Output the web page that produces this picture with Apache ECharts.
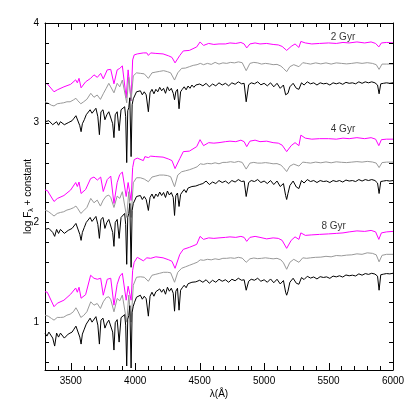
<!DOCTYPE html>
<html>
<head>
<meta charset="utf-8">
<script src="https://cdn.jsdelivr.net/npm/echarts@6/dist/echarts.min.js"></script>
<style>
  html, body { margin: 0; padding: 0; background: #fff; }
  #chart { width: 415px; height: 415px; }
</style>
</head>
<body>
<div id="chart"></div>
<script>
// wavelength grids (Angstrom) for the three resolutions
var wlLow = [
    3300, 3318, 3370, 3396, 3447, 3499, 3538, 3551, 3564, 3580,
    3615, 3654, 3680, 3706, 3732, 3752, 3783, 3810, 3835, 3860,
    3880, 3900, 3913, 3930, 3945, 3955, 3968, 3980, 3992, 4016,
    4063, 4075, 4090, 4102, 4120, 4160, 4216, 4260, 4285, 4309,
    4346, 4373, 4420, 4477, 4503, 4530, 4570, 4610, 4650, 4700,
    4735, 4780, 4820, 4845, 4865, 4890, 4930, 4968, 5020, 5070,
    5110, 5140, 5175, 5210, 5240, 5270, 5285, 5320, 5370, 5430,
    5500, 5560, 5612, 5660, 5720, 5780, 5830, 5865, 5890, 5910,
    5950, 6000
];
var wlMid = [
    3300, 3325, 3350, 3370, 3395, 3420, 3445, 3470, 3495, 3520,
    3540, 3555, 3578, 3600, 3625, 3655, 3680, 3705, 3730, 3752,
    3775, 3795, 3810, 3835, 3860, 3880, 3900, 3915, 3934, 3950,
    3968, 3985, 4010, 4040, 4070, 4102, 4130, 4160, 4190, 4220,
    4250, 4275, 4305, 4330, 4360, 4390, 4420, 4450, 4480, 4505,
    4530, 4560, 4590, 4620, 4650, 4680, 4710, 4740, 4770, 4800,
    4830, 4861, 4890, 4920, 4950, 4980, 5010, 5040, 5070, 5100,
    5130, 5150, 5175, 5200, 5230, 5270, 5300, 5330, 5360, 5400,
    5440, 5480, 5520, 5560, 5600, 5640, 5680, 5720, 5760, 5800,
    5840, 5870, 5892, 5915, 5950, 6000
];
var wlHigh = [
    3300, 3315, 3330, 3345, 3360, 3375, 3390, 3405, 3420, 3435,
    3450, 3465, 3480, 3495, 3510, 3525, 3540, 3555, 3570, 3580,
    3590, 3605, 3620, 3635, 3650, 3665, 3680, 3695, 3710, 3722,
    3734, 3750, 3765, 3780, 3795, 3810, 3825, 3835, 3845, 3860,
    3875, 3890, 3905, 3918, 3926, 3934, 3942, 3950, 3958, 3968,
    3976, 3985,
    3995, 4010, 4025, 4040, 4055, 4070, 4085, 4102, 4115, 4130,
    4145, 4160, 4175, 4190, 4205, 4220, 4235, 4250, 4265, 4280,
    4295, 4305, 4315, 4328, 4340, 4352, 4365, 4380, 4395, 4410,
    4425, 4440, 4455, 4470, 4485, 4500,
    4525, 4550, 4575, 4600, 4625, 4650, 4675, 4700, 4725, 4750,
    4775, 4800, 4825, 4845, 4861, 4880, 4900, 4925, 4950, 4975,
    5000, 5025, 5050, 5075, 5100, 5125, 5150, 5167, 5175, 5185,
    5200, 5225, 5250, 5270, 5290, 5310, 5335, 5360, 5385, 5410,
    5435, 5460, 5485, 5510, 5535, 5560, 5585, 5610, 5635, 5660,
    5685, 5710, 5735, 5760, 5785, 5810, 5835, 5860, 5880, 5892,
    5905, 5925, 5950, 5975, 6000
];

// 2 Gyr
var low2 = [
    3.395, 3.39, 3.31, 3.33, 3.36, 3.385, 3.43, 3.40, 3.445, 3.35,
    3.41, 3.445, 3.48, 3.455, 3.495, 3.44, 3.53, 3.535, 3.39, 3.53,
    3.545, 3.57, 3.58, 3.25, 3.53, 3.51, 3.22, 3.63, 3.68, 3.69,
    3.70, 3.68, 3.70, 3.675, 3.70, 3.695, 3.69, 3.67, 3.655, 3.60,
    3.675, 3.72, 3.725, 3.76, 3.81, 3.775, 3.795, 3.785, 3.79, 3.79,
    3.80, 3.795, 3.805, 3.79, 3.75, 3.79, 3.80, 3.79, 3.795, 3.785,
    3.78, 3.765, 3.725, 3.765, 3.79, 3.755, 3.815, 3.80, 3.79, 3.795,
    3.80, 3.795, 3.805, 3.80, 3.81, 3.80, 3.81, 3.795, 3.76, 3.80,
    3.805, 3.80
];
var mid2 = [
    3.21, 3.195, 3.175, 3.168, 3.19, 3.195, 3.20, 3.21, 3.21, 3.228,
    3.245, 3.22, 3.19, 3.21, 3.235, 3.295, 3.255, 3.278, 3.234, 3.29,
    3.345, 3.395, 3.36, 3.30, 3.395, 3.36, 3.428, 3.445, 3.20, 3.455,
    3.22, 3.47, 3.50, 3.495, 3.49, 3.445, 3.50, 3.508, 3.515, 3.522,
    3.512, 3.50, 3.428, 3.50, 3.545, 3.548, 3.562, 3.575, 3.582, 3.595,
    3.582, 3.595, 3.585, 3.605, 3.588, 3.60, 3.595, 3.605, 3.60, 3.61,
    3.602, 3.522, 3.595, 3.605, 3.60, 3.588, 3.595, 3.59, 3.582, 3.585,
    3.568, 3.545, 3.512, 3.562, 3.582, 3.562, 3.602, 3.595, 3.588, 3.60,
    3.59, 3.60, 3.588, 3.60, 3.595, 3.59, 3.595, 3.602, 3.595, 3.602,
    3.595, 3.582, 3.535, 3.588, 3.588, 3.588
];
var high2 = [
    3.01, 2.99, 3.02, 3.03, 2.98, 2.96, 3.01, 2.975, 3.01, 3.03,
    2.98, 2.96, 3.00, 2.99, 3.02, 3.045, 3.07, 3.08, 2.97, 2.91,
    2.99, 3.03, 3.08, 3.09, 3.13, 3.095, 3.08, 3.145, 3.06, 2.88,
    3.11, 3.13, 3.03, 3.08, 3.11, 3.13, 2.99, 2.85, 3.08, 3.11,
    2.92, 3.13, 3.145, 3.16, 3.06, 2.60, 3.12, 3.15, 3.25, 2.66,
    3.18, 3.24,
    3.26, 3.31, 3.29, 3.32, 3.28, 3.31, 3.28, 3.11, 3.30, 3.335,
    3.29, 3.335, 3.31, 3.355, 3.32, 3.345, 3.295, 3.36, 3.32, 3.345,
    3.295, 3.23, 3.31, 3.335, 3.14, 3.31, 3.335, 3.36, 3.33, 3.368,
    3.345, 3.378, 3.355, 3.378, 3.36, 3.388,
    3.37, 3.395, 3.36, 3.388, 3.37, 3.40, 3.378, 3.395, 3.37, 3.40,
    3.385, 3.41, 3.39, 3.395, 3.21, 3.38, 3.40, 3.39, 3.41, 3.38,
    3.395, 3.37, 3.40, 3.36, 3.395, 3.345, 3.378, 3.28, 3.26, 3.295,
    3.36, 3.395, 3.345, 3.335, 3.40, 3.378, 3.41, 3.39, 3.40, 3.378,
    3.40, 3.39, 3.395, 3.378, 3.40, 3.39, 3.40, 3.385, 3.405, 3.395,
    3.40, 3.39, 3.41, 3.395, 3.41, 3.40, 3.41, 3.40, 3.378, 3.29,
    3.39, 3.395, 3.40, 3.395, 3.40
];

// 4 Gyr
var low4 = [
    2.325, 2.32, 2.21, 2.24, 2.27, 2.325, 2.40, 2.36, 2.405, 2.29,
    2.33, 2.44, 2.455, 2.425, 2.455, 2.31, 2.43, 2.465, 2.19, 2.40,
    2.48, 2.505, 2.49, 2.26, 2.40, 2.39, 2.22, 2.55, 2.63, 2.645,
    2.62, 2.66, 2.675, 2.65, 2.665, 2.66, 2.655, 2.635, 2.62, 2.54,
    2.64, 2.71, 2.715, 2.76, 2.83, 2.77, 2.80, 2.795, 2.80, 2.81,
    2.815, 2.81, 2.825, 2.81, 2.76, 2.815, 2.825, 2.81, 2.815, 2.80,
    2.795, 2.775, 2.71, 2.77, 2.80, 2.77, 2.875, 2.845, 2.835, 2.84,
    2.84, 2.835, 2.845, 2.84, 2.85, 2.84, 2.85, 2.835, 2.77, 2.83,
    2.835, 2.835
];
var mid4 = [
    2.124, 2.11, 2.085, 2.064, 2.09, 2.10, 2.107, 2.124, 2.133, 2.147,
    2.164, 2.137, 2.09, 2.117, 2.15, 2.241, 2.197, 2.224, 2.164, 2.224,
    2.264, 2.274, 2.25, 2.15, 2.264, 2.241, 2.308, 2.291, 2.05, 2.308,
    2.05, 2.398, 2.448, 2.448, 2.435, 2.408, 2.455, 2.465, 2.475, 2.475,
    2.47, 2.458, 2.358, 2.475, 2.508, 2.518, 2.528, 2.542, 2.558, 2.588,
    2.582, 2.592, 2.588, 2.598, 2.588, 2.602, 2.602, 2.609, 2.602, 2.612,
    2.602, 2.535, 2.595, 2.602, 2.595, 2.595, 2.60, 2.595, 2.588, 2.59,
    2.575, 2.55, 2.51, 2.565, 2.585, 2.565, 2.605, 2.60, 2.595, 2.605,
    2.598, 2.607, 2.598, 2.608, 2.603, 2.60, 2.605, 2.61, 2.605, 2.612,
    2.606, 2.595, 2.55, 2.60, 2.605, 2.605
];
var high4 = [
    1.93, 1.91, 1.94, 1.95, 1.90, 1.86, 1.93, 1.89, 1.93, 1.95,
    1.89, 1.87, 1.92, 1.91, 1.94, 1.96, 1.99, 2.00, 1.88, 1.82,
    1.90, 1.95, 2.00, 2.01, 2.05, 2.01, 2.00, 2.06, 1.98, 1.84,
    2.03, 2.05, 1.94, 2.00, 2.03, 2.05, 1.90, 1.76, 2.00, 2.03,
    1.84, 2.05, 2.07, 2.09, 1.98, 1.58, 2.05, 2.09, 2.19, 1.55,
    2.12, 2.19,
    2.21, 2.26, 2.24, 2.27, 2.23, 2.26, 2.23, 2.12, 2.25, 2.285,
    2.24, 2.285, 2.26, 2.305, 2.27, 2.30, 2.25, 2.315, 2.275, 2.30,
    2.25, 2.07, 2.27, 2.295, 2.16, 2.28, 2.305, 2.33, 2.30, 2.345,
    2.325, 2.36, 2.34, 2.365, 2.35, 2.38,
    2.39, 2.415, 2.38, 2.405, 2.39, 2.42, 2.40, 2.415, 2.39, 2.42,
    2.405, 2.43, 2.41, 2.415, 2.26, 2.40, 2.42, 2.41, 2.43, 2.40,
    2.415, 2.39, 2.42, 2.38, 2.415, 2.36, 2.39, 2.27, 2.23, 2.29,
    2.37, 2.415, 2.355, 2.34, 2.42, 2.395, 2.43, 2.41, 2.42, 2.40,
    2.42, 2.41, 2.415, 2.40, 2.42, 2.41, 2.42, 2.405, 2.425, 2.415,
    2.42, 2.41, 2.43, 2.415, 2.43, 2.42, 2.43, 2.42, 2.395, 2.29,
    2.41, 2.415, 2.42, 2.415, 2.42
];

// 8 Gyr
var low8 = [
    1.305, 1.30, 1.155, 1.19, 1.22, 1.28, 1.342, 1.30, 1.35, 1.24,
    1.275, 1.47, 1.44, 1.43, 1.44, 1.27, 1.43, 1.44, 1.17, 1.38,
    1.46, 1.49, 1.47, 1.22, 1.36, 1.38, 1.22, 1.52, 1.60, 1.65,
    1.615, 1.63, 1.645, 1.625, 1.64, 1.655, 1.645, 1.625, 1.61, 1.54,
    1.68, 1.73, 1.75, 1.78, 1.86, 1.83, 1.845, 1.84, 1.845, 1.85,
    1.855, 1.85, 1.86, 1.85, 1.81, 1.85, 1.86, 1.85, 1.835, 1.845,
    1.84, 1.82, 1.74, 1.82, 1.855, 1.83, 1.895, 1.87, 1.875, 1.88,
    1.885, 1.89, 1.895, 1.905, 1.915, 1.91, 1.92, 1.905, 1.83, 1.895,
    1.905, 1.91
];
var mid8 = [
    1.07, 1.06, 1.037, 1.02, 1.047, 1.047, 1.05, 1.07, 1.08, 1.104,
    1.144, 1.11, 1.047, 1.067, 1.104, 1.204, 1.17, 1.187, 1.137, 1.204,
    1.247, 1.254, 1.227, 1.104, 1.237, 1.214, 1.271, 1.254, 1.00, 1.271,
    1.00, 1.37, 1.45, 1.455, 1.45, 1.41, 1.47, 1.48, 1.49, 1.50,
    1.50, 1.495, 1.40, 1.50, 1.54, 1.555, 1.57, 1.585, 1.60, 1.625,
    1.62, 1.63, 1.625, 1.635, 1.628, 1.64, 1.64, 1.645, 1.64, 1.65,
    1.642, 1.60, 1.635, 1.643, 1.637, 1.64, 1.645, 1.64, 1.635, 1.64,
    1.625, 1.595, 1.53, 1.60, 1.63, 1.60, 1.645, 1.64, 1.645, 1.65,
    1.652, 1.66, 1.655, 1.668, 1.665, 1.672, 1.675, 1.685, 1.68, 1.695,
    1.69, 1.675, 1.605, 1.67, 1.68, 1.68
];
var high8 = [
    0.89, 0.86, 0.90, 0.91, 0.84, 0.76, 0.89, 0.85, 0.89, 0.91,
    0.84, 0.82, 0.88, 0.87, 0.90, 0.93, 0.96, 0.97, 0.85, 0.78,
    0.88, 0.93, 0.98, 0.99, 1.04, 1.00, 0.99, 1.055, 0.97, 0.78,
    1.02, 1.04, 0.94, 0.99, 1.02, 1.04, 0.90, 0.72, 0.995, 1.025,
    0.80, 1.045, 1.06, 1.075, 0.97, 0.56, 1.03, 1.065, 1.165, 0.54,
    1.10, 1.16,
    1.20, 1.25, 1.235, 1.27, 1.23, 1.26, 1.235, 1.06, 1.26, 1.30,
    1.26, 1.305, 1.285, 1.333, 1.30, 1.33, 1.28, 1.35, 1.31, 1.34,
    1.29, 1.11, 1.31, 1.34, 1.12, 1.32, 1.345, 1.37, 1.345, 1.385,
    1.365, 1.40, 1.38, 1.404, 1.39, 1.42,
    1.40, 1.425, 1.39, 1.42, 1.40, 1.43, 1.41, 1.425, 1.40, 1.43,
    1.415, 1.44, 1.42, 1.425, 1.32, 1.41, 1.43, 1.42, 1.44, 1.41,
    1.425, 1.40, 1.433, 1.395, 1.43, 1.383, 1.417, 1.30, 1.27, 1.31,
    1.40, 1.44, 1.39, 1.38, 1.447, 1.427, 1.46, 1.442, 1.453, 1.433,
    1.456, 1.448, 1.454, 1.439, 1.462, 1.454, 1.465, 1.452, 1.473, 1.465,
    1.471, 1.463, 1.484, 1.471, 1.487, 1.479, 1.49, 1.482, 1.461, 1.32,
    1.475, 1.481, 1.487, 1.484, 1.49
];

// age labels and where they sit (data coords)
var ageLabels = ['2 Gyr', '4 Gyr', '8 Gyr'];
var ageLabelX = [5612, 5612, 5540];
var ageLabelY = [3.86, 2.93, 1.96];

// tick labels and tick marks
var xLabels = [3500, 4000, 4500, 5000, 5500, 6000];
var yLabels = [1, 2, 3, 4];
var xTicks = [3400, 3500, 3600, 3700, 3800, 3900, 4000, 4100, 4200, 4300, 4400, 4500,
    4600, 4700, 4800, 4900, 5000, 5100, 5200, 5300, 5400, 5500, 5600, 5700, 5800, 5900];
var yTicks = [0.6, 0.8, 1, 1.2, 1.4, 1.6, 1.8, 2, 2.2, 2.4, 2.6, 2.8, 3, 3.2, 3.4, 3.6, 3.8];

var X_MIN = 3300, X_MAX = 6000, Y_MIN = 0.52, Y_MAX = 4;
var fontFam = '"Liberation Sans", Arial, Helvetica, sans-serif';

function pares(wl, vals, nome) {
    if (wl.length !== vals.length) {
        throw new Error(nome + ': ' + vals.length + ' values vs ' + wl.length + ' wavelengths');
    }
    return wl.map(function (w, i) { return [w, vals[i]]; });
}

function espectro(nome, wl, vals, cor) {
    return {
        name: nome,
        type: 'line',
        showSymbol: false,
        symbol: 'none',
        color: cor,
        lineStyle: { width: 1, color: cor },
        data: pares(wl, vals, nome),
        z: 2
    };
}

// tick marks drawn inward on both sides of the frame
var serieTicksX = {
    name: 'ticksX',
    type: 'custom',
    silent: true,
    z: 4,
    data: xTicks.map(function (v) { return [v, Y_MIN]; }),
    renderItem: function (params, api) {
        var cs = params.coordSys;
        var v = api.value(0);
        var x = Math.round(api.coord([v, Y_MIN])[0]) + 0.5;
        var len = (v % 500 === 0) ? 7 : 4;
        var baixo = cs.y + cs.height, cima = cs.y;
        return {
            type: 'group',
            children: [
                { type: 'line', shape: { x1: x, y1: baixo, x2: x, y2: baixo - len }, style: { stroke: '#000', lineWidth: 1 } },
                { type: 'line', shape: { x1: x, y1: cima, x2: x, y2: cima + len }, style: { stroke: '#000', lineWidth: 1 } }
            ]
        };
    }
};

var serieTicksY = {
    name: 'ticksY',
    type: 'custom',
    silent: true,
    z: 4,
    data: yTicks.map(function (v) { return [X_MIN, v]; }),
    renderItem: function (params, api) {
        var cs = params.coordSys;
        var y = Math.round(api.coord([X_MIN, api.value(1)])[1]) + 0.5;
        var len = 4;
        var esq = cs.x, dir = cs.x + cs.width;
        return {
            type: 'group',
            children: [
                { type: 'line', shape: { x1: esq, y1: y, x2: esq + len, y2: y }, style: { stroke: '#000', lineWidth: 1 } },
                { type: 'line', shape: { x1: dir, y1: y, x2: dir - len, y2: y }, style: { stroke: '#000', lineWidth: 1 } }
            ]
        };
    }
};

function eixoX(pos, comLabel) {
    return {
        type: 'value',
        position: pos,
        min: X_MIN,
        max: X_MAX,
        axisLine: { show: true, onZero: false, lineStyle: { color: '#000', width: 1 } },
        axisTick: { show: false },
        axisLabel: {
            show: comLabel, customValues: xLabels, color: '#000',
            fontSize: 10, fontFamily: fontFam, margin: 6,
            formatter: function (v) { return String(v); }
        },
        splitLine: { show: false }
    };
}

function eixoY(pos, comLabel) {
    return {
        type: 'value',
        position: pos,
        min: Y_MIN,
        max: Y_MAX,
        axisLine: { show: true, onZero: false, lineStyle: { color: '#000', width: 1 } },
        axisTick: { show: false },
        axisLabel: {
            show: comLabel, customValues: yLabels, color: '#000',
            fontSize: 10, fontFamily: fontFam, margin: 6,
            formatter: function (v) { return String(v); }
        },
        splitLine: { show: false }
    };
}

var xAxes = [eixoX('bottom', true), eixoX('top', false)];
xAxes[0].name = 'λ(Å)';
xAxes[0].nameLocation = 'middle';
xAxes[0].nameGap = 19;
xAxes[0].nameMoveOverlap = false;
xAxes[0].nameTextStyle = { color: '#000', fontSize: 10, fontFamily: fontFam };

var yAxes = [eixoY('left', true), eixoY('right', false)];
yAxes[0].name = '{t|log F}{s|λ}{t| + constant}';
yAxes[0].nameLocation = 'middle';
yAxes[0].nameGap = 10;
yAxes[0].nameMoveOverlap = false;
yAxes[0].nameTextStyle = {
    color: '#000',
    rich: {
        t: { fontSize: 10, fontFamily: fontFam, color: '#000', lineHeight: 14, verticalAlign: 'middle' },
        s: { fontSize: 7, fontFamily: fontFam, color: '#000', lineHeight: 14, verticalAlign: 'bottom' }
    }
};

var chart = echarts.init(document.getElementById('chart'), null, { renderer: 'canvas' });

chart.setOption({
    animation: false,
    backgroundColor: '#fff',
    grid: { left: 45, right: 22, top: 23, bottom: 45, containLabel: false, outerBoundsMode: 'none' },
    xAxis: xAxes,
    yAxis: yAxes,
    series: [
        espectro('2 Gyr low', wlLow, low2, '#ff00ff'),
        espectro('2 Gyr mid', wlMid, mid2, '#999999'),
        espectro('2 Gyr high', wlHigh, high2, '#000000'),
        espectro('4 Gyr low', wlLow, low4, '#ff00ff'),
        espectro('4 Gyr mid', wlMid, mid4, '#999999'),
        espectro('4 Gyr high', wlHigh, high4, '#000000'),
        espectro('8 Gyr low', wlLow, low8, '#ff00ff'),
        espectro('8 Gyr mid', wlMid, mid8, '#999999'),
        espectro('8 Gyr high', wlHigh, high8, '#000000'),
        serieTicksX,
        serieTicksY,
        {
            name: 'idades',
            type: 'scatter',
            symbolSize: 0,
            silent: true,
            data: ageLabels.map(function (txt, i) { return [ageLabelX[i], ageLabelY[i], txt]; }),
            label: {
                show: true,
                position: 'inside',
                formatter: function (p) { return p.data[2]; },
                color: '#000',
                textBorderWidth: 0,
                fontSize: 10,
                fontFamily: fontFam
            },
            z: 5
        }
    ]
});

window.addEventListener('resize', chart.resize);
</script>
</body>
</html>
